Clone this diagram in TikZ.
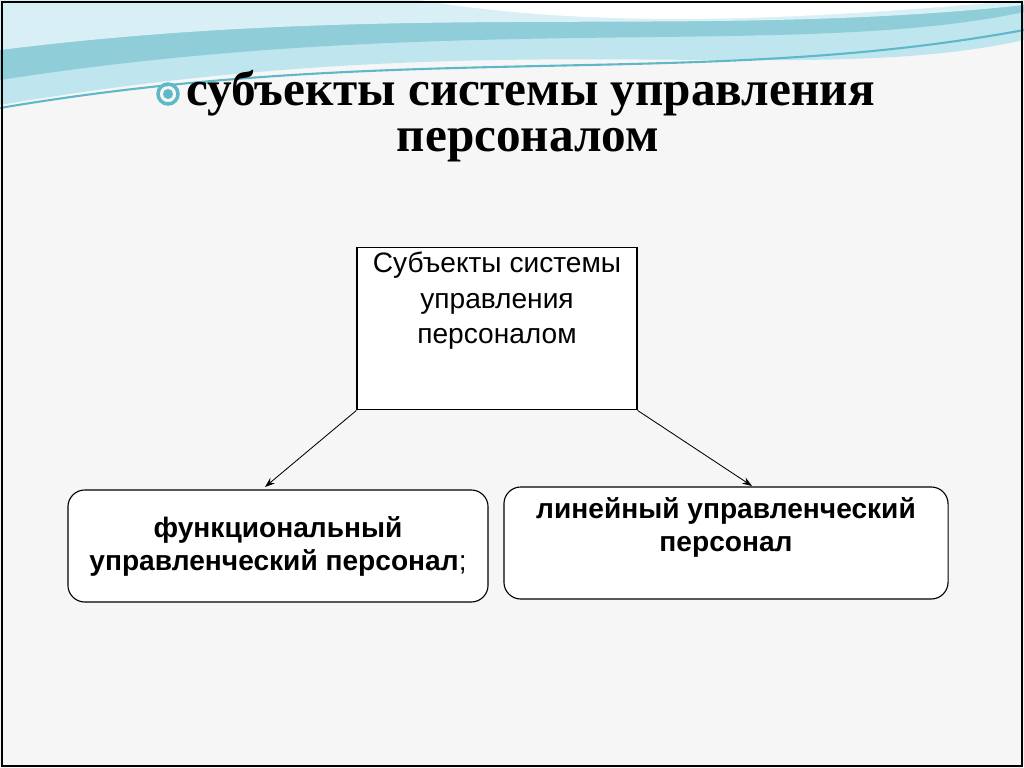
\documentclass[tikz,border=0pt]{standalone}
\usepackage{fontspec}
\setmainfont{Liberation Serif}
\newfontfamily\arialfont{Liberation Sans}
\usetikzlibrary{positioning,arrows.meta}
\definecolor{wavedark}{HTML}{5FB8C8}
\definecolor{wavelight}{HTML}{BFE6EE}
\definecolor{bgpage}{HTML}{F6F6F6}
\tikzset{
  subjbox/.style={draw, fill=white, thick, minimum width=7cm, align=center, font=\arialfont\fontsize{20}{25}\selectfont},
  groupbox/.style={draw, fill=white, thick, rounded corners=12pt, minimum height=2.8cm, align=center, font=\arialfont\bfseries\fontsize{20}{23.5}\selectfont},
  link/.style={-{Stealth[length=7pt,width=5pt]}, semithick}
}
\begin{document}
\begin{tikzpicture}[x=0.025cm, y=-0.025cm]
  % page
  \fill[bgpage] (0,0) rectangle (1024,768);
  \useasboundingbox (0,0) rectangle (1024,768);
  % waves at the top
  \fill[wavelight] (0,0) -- (1024,0) -- (1024,40) .. controls (800,90) and (500,20) .. (0,105) -- cycle;
  \fill[wavedark!70] (0,0) -- (1024,0) -- (1024,12) .. controls (800,60) and (450,10) .. (0,80) -- cycle;
  \fill[wavelight!60] (0,0) -- (1024,0) -- (1024,5) .. controls (700,40) and (400,0) .. (0,50) -- cycle;
  \fill[white] (420,0) .. controls (600,30) and (800,20) .. (1024,0) -- cycle;
  \draw[wavedark, line width=1.5pt] (0,108) .. controls (400,40) and (700,90) .. (1024,30);
  \draw[black, line width=1.2pt] (2,2) rectangle (1022,766);
  % title
  \draw[wavedark, line width=2.5pt] (168,94) circle (10);
  \fill[wavedark] (168,94) circle (5);
  \node[anchor=base west, font=\bfseries\fontsize{35}{40}\selectfont, inner sep=0] (title1) at (186,106) {субъекты системы управления};
  \node[anchor=base, font=\bfseries\fontsize{35}{40}\selectfont, inner sep=0] (title2) at (528,152) {персоналом};
  % diagram
  \node[subjbox, anchor=north, text depth=1.55cm] (subj) at (497,247) {Субъекты системы\\управления\\персоналом};
  \node[groupbox, minimum width=10.5cm] (func) at (278,546) {функциональный\\управленческий персонал{\mdseries;}};
  \node[groupbox, minimum width=11.1cm, text depth=0.9cm] (line) at (726,543) {линейный управленческий\\персонал};
  \draw[link] (subj.south west) -- (265,487);
  \draw[link] (subj.south east) -- (752,486);
\end{tikzpicture}
\end{document}
